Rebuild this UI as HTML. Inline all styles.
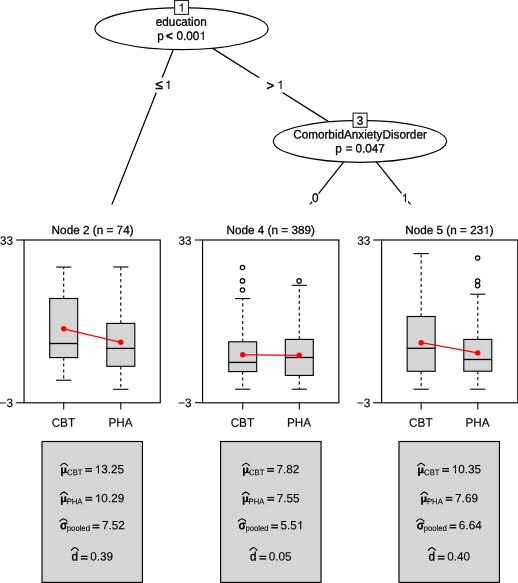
<!DOCTYPE html>
<html><head><meta charset="utf-8"><title>tree</title>
<style>html,body{margin:0;padding:0;background:#fff;}svg{display:block;will-change:transform;}text{font-family:"Liberation Sans",sans-serif;fill:#000;stroke:#000;stroke-width:0.3px;}</style></head><body>
<svg width="518" height="583" viewBox="0 0 518 583">
<defs>
<pattern id="dots" width="2" height="2" patternUnits="userSpaceOnUse"><rect width="2" height="2" fill="#d7d7d7"/><rect x="0" y="0" width="1" height="1" fill="#cfcfcf"/></pattern>
<clipPath id="treeclip"><rect x="0" y="0" width="518" height="204.6"/></clipPath>
</defs>
<rect width="518" height="583" fill="#fff"/>
<g clip-path="url(#treeclip)" stroke="#000" stroke-width="1.25" fill="none">
<line x1="181.55" y1="28.65" x2="92.35" y2="254"/>
<line x1="181.55" y1="28.65" x2="359.95" y2="141.35"/>
<line x1="359.95" y1="141.35" x2="270.8" y2="254"/>
<line x1="359.95" y1="141.35" x2="450" y2="254"/>
</g>
<rect x="147" y="77.5" width="32" height="15" fill="#fff"/>
<rect x="258.5" y="77.5" width="25" height="15" fill="#fff"/>
<rect x="311.9" y="193" width="6.6" height="9" fill="#fff"/>
<rect x="401.4" y="193" width="6.6" height="9" fill="#fff"/>
<ellipse cx="181.55" cy="28.65" rx="86.6" ry="21.0" fill="#fff" stroke="#000" stroke-width="1.2"/>
<ellipse cx="359.95" cy="141.35" rx="86.6" ry="21.0" fill="#fff" stroke="#000" stroke-width="1.2"/>
<rect x="174.6" y="0.5" width="13.9" height="13.9" fill="#fff" stroke="#222" stroke-width="1.1"/>
<rect x="353.05" y="113.1" width="14.0" height="14.2" fill="#fff" stroke="#222" stroke-width="1.1"/>
<path transform="translate(178.30,11.70) scale(0.00574,-0.00574)" d="M763,0H583V1147Q518,1085 412.5,1023Q307,961 223,930V1104Q374,1175 487,1276Q600,1377 647,1472H763Z" fill="#000" stroke="#000" stroke-width="12"/>
<g transform="matrix(1,0.001,0,1.035,0,-4.728)"><text x="356.83" y="124.80" font-size="11.75" xml:space="preserve">3</text></g>
<g transform="matrix(1,0.001,0,1.035,0,-1.081)"><text x="155.82" y="25.70" font-size="11.75" xml:space="preserve">education</text></g>
<g transform="matrix(1,0.001,0,1.035,0,-1.557)"><text x="157.25" y="39.90" font-size="11.75" xml:space="preserve">p</text></g>
<g transform="matrix(1,0.001,0,1.035,0,-1.566)"><text x="166.10" y="39.90" font-size="11.75" font-weight="bold" xml:space="preserve">&lt;</text></g>
<g transform="matrix(1,0.001,0,1.035,0,-1.588)"><text x="176.55" y="39.90" font-size="11.75" xml:space="preserve">0.00</text><path transform="translate(199.42,39.90) scale(0.00574,-0.00549)" d="M763,0H583V1147Q518,1085 412.5,1023Q307,961 223,930V1104Q374,1175 487,1276Q600,1377 647,1472H763Z" fill="#000" stroke="#000" stroke-width="12"/></g>
<g transform="matrix(1,0.001,0,1.035,0,-5.208)"><text x="293.17" y="138.50" font-size="11.75" xml:space="preserve">ComorbidAnxietyDisorder</text></g>
<g transform="matrix(1,0.001,0,1.035,0,-5.680)"><text x="335.24" y="152.60" font-size="11.75" xml:space="preserve">p</text></g>
<g transform="matrix(1,0.001,0,1.035,0,-5.690)"><text x="345.74" y="152.60" font-size="11.75" xml:space="preserve">=</text></g>
<g transform="matrix(1,0.001,0,1.035,0,-5.711)"><text x="355.51" y="152.60" font-size="11.75" xml:space="preserve">0.047</text></g>
<g transform="matrix(1,0.001,0,1.0,0,-0.159)"><text x="155.50" y="89.10" font-size="13.2" style="stroke-width:0.5px" xml:space="preserve">≤</text></g>
<path transform="translate(165.00,88.90) scale(0.00574,-0.00574)" d="M763,0H583V1147Q518,1085 412.5,1023Q307,961 223,930V1104Q374,1175 487,1276Q600,1377 647,1472H763Z" fill="#000" stroke="#000" stroke-width="12"/>
<g transform="matrix(1,0.001,0,1.0,0,-0.270)"><text x="266.50" y="89.90" font-size="13.2" style="stroke-width:0.5px" xml:space="preserve">&gt;</text></g>
<path transform="translate(277.20,88.90) scale(0.00574,-0.00574)" d="M763,0H583V1147Q518,1085 412.5,1023Q307,961 223,930V1104Q374,1175 487,1276Q600,1377 647,1472H763Z" fill="#000" stroke="#000" stroke-width="12"/>
<g transform="matrix(1,0.001,0,1.035,0,-7.385)"><text x="311.93" y="202.00" font-size="11.75" xml:space="preserve">0</text></g>
<path transform="translate(401.60,202.00) scale(0.00574,-0.00574)" d="M763,0H583V1147Q518,1085 412.5,1023Q307,961 223,930V1104Q374,1175 487,1276Q600,1377 647,1472H763Z" fill="#000" stroke="#000" stroke-width="12"/>
<g transform="matrix(1,0.001,0,1.0,0,-0.093)"><text x="51.61" y="234.00" font-size="11.75" xml:space="preserve">Node 2 (n = 74)</text></g>
<g stroke="#000" stroke-width="1.1">
<line x1="16.15" y1="240.0" x2="24.05" y2="240.0"/>
<line x1="16.15" y1="402.75" x2="24.05" y2="402.75"/>
<line x1="63.7" y1="402.75" x2="63.7" y2="409.55"/>
<line x1="120.8" y1="402.75" x2="120.8" y2="409.55"/>
</g>
<g transform="matrix(1,0.001,0,1.045,0,-11.018)"><text x="-0.12" y="244.70" font-size="11.75" style="stroke-width:0.12px" xml:space="preserve">33</text></g>
<g transform="matrix(1,0.001,0,1.045,0,-18.317)"><text x="-0.45" y="406.90" font-size="11.75" style="stroke-width:0.12px" xml:space="preserve">−3</text></g>
<g transform="matrix(1,0.001,0,1.04,0,-17.135)"><text x="51.65" y="426.80" font-size="11.75" style="stroke-width:0.12px" xml:space="preserve">CBT</text></g>
<g transform="matrix(1,0.001,0,1.04,0,-17.192)"><text x="108.42" y="426.80" font-size="11.75" style="stroke-width:0.12px" xml:space="preserve">PHA</text></g>
<g stroke="#000" stroke-width="1.1" fill="none">
<line x1="63.7" y1="298.5" x2="63.7" y2="267.1" stroke-dasharray="3.1,2.8"/>
<line x1="63.7" y1="357.6" x2="63.7" y2="380.2" stroke-dasharray="3.1,2.8"/>
<line x1="56.1" y1="267.1" x2="71.3" y2="267.1"/>
<line x1="56.1" y1="380.2" x2="71.3" y2="380.2"/>
<rect x="49.7" y="298.5" width="28.0" height="59.1" fill="url(#dots)"/>
<line x1="49.7" y1="343.5" x2="77.7" y2="343.5" stroke-width="1.3"/>
</g>
<g stroke="#000" stroke-width="1.1" fill="none">
<line x1="120.8" y1="323.4" x2="120.8" y2="267.0" stroke-dasharray="3.1,2.8"/>
<line x1="120.8" y1="366.3" x2="120.8" y2="389.3" stroke-dasharray="3.1,2.8"/>
<line x1="113.2" y1="267.0" x2="128.4" y2="267.0"/>
<line x1="113.2" y1="389.3" x2="128.4" y2="389.3"/>
<rect x="106.8" y="323.4" width="28.0" height="42.9" fill="url(#dots)"/>
<line x1="106.8" y1="348.4" x2="134.8" y2="348.4" stroke-width="1.3"/>
</g>
<line x1="63.7" y1="328.8" x2="120.8" y2="342.3" stroke="#f00" stroke-width="1.3"/>
<circle cx="63.7" cy="328.8" r="2.7" fill="#f00"/>
<circle cx="120.8" cy="342.3" r="2.7" fill="#f00"/>
<rect x="24.05" y="240.0" width="136.2" height="162.8" fill="none" stroke="#000" stroke-width="1.15"/>
<g transform="matrix(1,0.001,0,1.0,0,-0.271)"><text x="226.47" y="234.00" font-size="11.75" xml:space="preserve">Node 4 (n = 389)</text></g>
<g stroke="#000" stroke-width="1.1">
<line x1="195.05" y1="240.0" x2="202.55" y2="240.0"/>
<line x1="195.05" y1="402.75" x2="202.55" y2="402.75"/>
<line x1="242.7" y1="402.75" x2="242.7" y2="409.55"/>
<line x1="299.3" y1="402.75" x2="299.3" y2="409.55"/>
</g>
<g transform="matrix(1,0.001,0,1.045,0,-11.197)"><text x="178.53" y="244.70" font-size="11.75" style="stroke-width:0.12px" xml:space="preserve">33</text></g>
<g transform="matrix(1,0.001,0,1.045,0,-18.495)"><text x="178.20" y="406.90" font-size="11.75" style="stroke-width:0.12px" xml:space="preserve">−3</text></g>
<g transform="matrix(1,0.001,0,1.04,0,-17.314)"><text x="230.65" y="426.80" font-size="11.75" style="stroke-width:0.12px" xml:space="preserve">CBT</text></g>
<g transform="matrix(1,0.001,0,1.04,0,-17.371)"><text x="286.92" y="426.80" font-size="11.75" style="stroke-width:0.12px" xml:space="preserve">PHA</text></g>
<g stroke="#000" stroke-width="1.1" fill="none">
<line x1="242.7" y1="341.8" x2="242.7" y2="298.6" stroke-dasharray="3.1,2.8"/>
<line x1="242.7" y1="371.6" x2="242.7" y2="389.2" stroke-dasharray="3.1,2.8"/>
<line x1="235.1" y1="298.6" x2="250.29999999999998" y2="298.6"/>
<line x1="235.1" y1="389.2" x2="250.29999999999998" y2="389.2"/>
<rect x="228.7" y="341.8" width="28.0" height="29.8" fill="url(#dots)"/>
<line x1="228.7" y1="362.4" x2="256.7" y2="362.4" stroke-width="1.3"/>
<circle cx="242.5" cy="267.5" r="2.2" stroke-width="1.2"/>
<circle cx="242.5" cy="280.9" r="2.2" stroke-width="1.2"/>
<circle cx="242.5" cy="290.0" r="2.2" stroke-width="1.2"/>
</g>
<g stroke="#000" stroke-width="1.1" fill="none">
<line x1="299.3" y1="339.4" x2="299.3" y2="285.3" stroke-dasharray="3.1,2.8"/>
<line x1="299.3" y1="375.4" x2="299.3" y2="389.2" stroke-dasharray="3.1,2.8"/>
<line x1="291.7" y1="285.3" x2="306.90000000000003" y2="285.3"/>
<line x1="291.7" y1="389.2" x2="306.90000000000003" y2="389.2"/>
<rect x="285.3" y="339.4" width="28.0" height="36.0" fill="url(#dots)"/>
<line x1="285.3" y1="357.5" x2="313.3" y2="357.5" stroke-width="1.3"/>
<circle cx="299.1" cy="280.9" r="2.2" stroke-width="1.2"/>
</g>
<line x1="242.7" y1="354.8" x2="299.3" y2="355.3" stroke="#f00" stroke-width="1.3"/>
<circle cx="242.7" cy="354.8" r="2.7" fill="#f00"/>
<circle cx="299.3" cy="355.3" r="2.7" fill="#f00"/>
<rect x="202.55" y="240.0" width="136.3" height="162.8" fill="none" stroke="#000" stroke-width="1.15"/>
<g transform="matrix(1,0.001,0,1.0,0,-0.449)"><text x="405.15" y="234.00" font-size="11.75" xml:space="preserve">Node 5 (n = 23</text><path transform="translate(483.21,234.00) scale(0.00574,-0.00549)" d="M763,0H583V1147Q518,1085 412.5,1023Q307,961 223,930V1104Q374,1175 487,1276Q600,1377 647,1472H763Z" fill="#000" stroke="#000" stroke-width="12"/><text x="489.74" y="234.00" font-size="11.75" xml:space="preserve">)</text></g>
<g stroke="#000" stroke-width="1.1">
<line x1="373.20000000000005" y1="240.0" x2="381.6" y2="240.0"/>
<line x1="373.20000000000005" y1="402.75" x2="381.6" y2="402.75"/>
<line x1="421.15" y1="402.75" x2="421.15" y2="409.55"/>
<line x1="477.8" y1="402.75" x2="477.8" y2="409.55"/>
</g>
<g transform="matrix(1,0.001,0,1.045,0,-11.375)"><text x="357.23" y="244.70" font-size="11.75" style="stroke-width:0.12px" xml:space="preserve">33</text></g>
<g transform="matrix(1,0.001,0,1.045,0,-18.674)"><text x="356.90" y="406.90" font-size="11.75" style="stroke-width:0.12px" xml:space="preserve">−3</text></g>
<g transform="matrix(1,0.001,0,1.04,0,-17.493)"><text x="409.10" y="426.80" font-size="11.75" style="stroke-width:0.12px" xml:space="preserve">CBT</text></g>
<g transform="matrix(1,0.001,0,1.04,0,-17.550)"><text x="465.42" y="426.80" font-size="11.75" style="stroke-width:0.12px" xml:space="preserve">PHA</text></g>
<g stroke="#000" stroke-width="1.1" fill="none">
<line x1="421.15" y1="316.5" x2="421.15" y2="253.6" stroke-dasharray="3.1,2.8"/>
<line x1="421.15" y1="371.3" x2="421.15" y2="389.2" stroke-dasharray="3.1,2.8"/>
<line x1="413.54999999999995" y1="253.6" x2="428.75" y2="253.6"/>
<line x1="413.54999999999995" y1="389.2" x2="428.75" y2="389.2"/>
<rect x="407.15" y="316.5" width="28.0" height="54.8" fill="url(#dots)"/>
<line x1="407.15" y1="348.3" x2="435.15" y2="348.3" stroke-width="1.3"/>
</g>
<g stroke="#000" stroke-width="1.1" fill="none">
<line x1="477.8" y1="339.4" x2="477.8" y2="294.2" stroke-dasharray="3.1,2.8"/>
<line x1="477.8" y1="371.2" x2="477.8" y2="389.2" stroke-dasharray="3.1,2.8"/>
<line x1="470.2" y1="294.2" x2="485.40000000000003" y2="294.2"/>
<line x1="470.2" y1="389.2" x2="485.40000000000003" y2="389.2"/>
<rect x="463.8" y="339.4" width="28.0" height="31.8" fill="url(#dots)"/>
<line x1="463.8" y1="359.5" x2="491.8" y2="359.5" stroke-width="1.3"/>
<circle cx="477.6" cy="258.0" r="2.2" stroke-width="1.2"/>
<circle cx="477.6" cy="281.0" r="2.2" stroke-width="1.2"/>
<circle cx="477.6" cy="285.6" r="2.2" stroke-width="1.2"/>
</g>
<line x1="421.15" y1="342.7" x2="477.8" y2="352.9" stroke="#f00" stroke-width="1.3"/>
<circle cx="421.15" cy="342.7" r="2.7" fill="#f00"/>
<circle cx="477.8" cy="352.9" r="2.7" fill="#f00"/>
<rect x="381.6" y="240.0" width="136.2" height="162.8" fill="none" stroke="#000" stroke-width="1.15"/>
<rect x="42.0" y="441.5" width="100.45" height="140.9" fill="url(#dots)" stroke="#000" stroke-width="1.15"/>
<rect x="220.6" y="441.5" width="100.45" height="140.9" fill="url(#dots)" stroke="#000" stroke-width="1.15"/>
<rect x="399.0" y="441.5" width="100.45" height="140.9" fill="url(#dots)" stroke="#000" stroke-width="1.15"/>
<path d="M60.28,465.90 Q62.18,463.65 64.08,463.20 Q65.98,463.65 67.88,465.90" fill="none" stroke="#000" stroke-width="1.15" stroke-linejoin="round"/>
<g transform="translate(61.08,473.30)" stroke="#000" fill="none"><path d="M0.85,-5.75V2.6" stroke-width="1.7"/><path d="M4.35,-5.75V-0.6" stroke-width="1.9"/><path d="M1.2,-2.0Q1.3,-0.45 2.6,-0.45Q3.7,-0.45 3.9,-2.0" stroke-width="1.2"/><path d="M4.6,-1.3Q5.0,-0.35 5.9,-0.4Q6.5,-0.45 6.9,-1.3" stroke-width="0.9"/></g>
<g transform="matrix(1,0.001,0,1.08,0,-38.095)"><text x="67.09" y="475.25" font-size="7.7" style="stroke-width:0.08px" xml:space="preserve">CBT</text></g>
<rect x="85.21" y="468.00" width="6.8" height="1.25" fill="#000"/><rect x="85.21" y="470.55" width="6.8" height="1.3" fill="#000"/>
<g transform="matrix(1,0.001,0,1.015,0,-7.209)"><path transform="translate(94.61,473.30) scale(0.00574,-0.00549)" d="M763,0H583V1147Q518,1085 412.5,1023Q307,961 223,930V1104Q374,1175 487,1276Q600,1377 647,1472H763Z" fill="#000" stroke="#000" stroke-width="12"/><text x="101.15" y="473.30" font-size="11.75" style="stroke-width:0.12px" xml:space="preserve">3.25</text></g>
<path d="M60.13,494.80 Q62.03,492.55 63.93,492.10 Q65.83,492.55 67.73,494.80" fill="none" stroke="#000" stroke-width="1.15" stroke-linejoin="round"/>
<g transform="translate(60.93,502.20)" stroke="#000" fill="none"><path d="M0.85,-5.75V2.6" stroke-width="1.7"/><path d="M4.35,-5.75V-0.6" stroke-width="1.9"/><path d="M1.2,-2.0Q1.3,-0.45 2.6,-0.45Q3.7,-0.45 3.9,-2.0" stroke-width="1.2"/><path d="M4.6,-1.3Q5.0,-0.35 5.9,-0.4Q6.5,-0.45 6.9,-1.3" stroke-width="0.9"/></g>
<g transform="matrix(1,0.001,0,1.08,0,-40.407)"><text x="66.70" y="504.15" font-size="7.7" style="stroke-width:0.08px" xml:space="preserve">PHA</text></g>
<rect x="85.42" y="496.90" width="6.8" height="1.25" fill="#000"/><rect x="85.42" y="499.45" width="6.8" height="1.3" fill="#000"/>
<g transform="matrix(1,0.001,0,1.015,0,-7.643)"><path transform="translate(94.82,502.20) scale(0.00574,-0.00549)" d="M763,0H583V1147Q518,1085 412.5,1023Q307,961 223,930V1104Q374,1175 487,1276Q600,1377 647,1472H763Z" fill="#000" stroke="#000" stroke-width="12"/><text x="101.35" y="502.20" font-size="11.75" style="stroke-width:0.12px" xml:space="preserve">0.29</text></g>
<path d="M59.45,521.50 Q61.45,519.25 63.45,518.80 Q65.45,519.25 67.45,521.50" fill="none" stroke="#000" stroke-width="1.15" stroke-linejoin="round"/>
<text transform="matrix(0.904,0.001,0,1,59.92,529.20)" font-size="12.2" font-weight="bold" style="stroke-width:0.15px">σ</text>
<g transform="matrix(1,0.001,0,1.08,0,-42.558)"><text x="66.85" y="531.00" font-size="7.7" style="stroke-width:0.08px" xml:space="preserve">pooled</text></g>
<rect x="92.58" y="524.55" width="6.8" height="1.25" fill="#000"/><rect x="92.58" y="527.10" width="6.8" height="1.3" fill="#000"/>
<g transform="matrix(1,0.001,0,1.015,0,-8.053)"><text x="101.98" y="529.30" font-size="11.75" style="stroke-width:0.12px" xml:space="preserve">7.52</text></g>
<path d="M71.04,550.70 Q72.97,547.95 74.89,547.50 Q76.82,547.95 78.74,550.70" fill="none" stroke="#000" stroke-width="1.15" stroke-linejoin="round"/>
<g transform="matrix(1,0.001,0,1.035,0,-19.692)"><text x="71.55" y="560.50" font-size="11.75" xml:space="preserve">d</text></g>
<rect x="80.84" y="555.75" width="6.8" height="1.25" fill="#000"/><rect x="80.84" y="558.30" width="6.8" height="1.3" fill="#000"/>
<g transform="matrix(1,0.001,0,1.015,0,-8.509)"><text x="90.24" y="560.50" font-size="11.75" style="stroke-width:0.12px" xml:space="preserve">0.39</text></g>
<path d="M242.19,465.90 Q244.09,463.65 245.99,463.20 Q247.89,463.65 249.79,465.90" fill="none" stroke="#000" stroke-width="1.15" stroke-linejoin="round"/>
<g transform="translate(242.99,473.30)" stroke="#000" fill="none"><path d="M0.85,-5.75V2.6" stroke-width="1.7"/><path d="M4.35,-5.75V-0.6" stroke-width="1.9"/><path d="M1.2,-2.0Q1.3,-0.45 2.6,-0.45Q3.7,-0.45 3.9,-2.0" stroke-width="1.2"/><path d="M4.6,-1.3Q5.0,-0.35 5.9,-0.4Q6.5,-0.45 6.9,-1.3" stroke-width="0.9"/></g>
<g transform="matrix(1,0.001,0,1.08,0,-38.277)"><text x="249.00" y="475.25" font-size="7.7" style="stroke-width:0.08px" xml:space="preserve">CBT</text></g>
<rect x="267.13" y="468.00" width="6.8" height="1.25" fill="#000"/><rect x="267.13" y="470.55" width="6.8" height="1.3" fill="#000"/>
<g transform="matrix(1,0.001,0,1.015,0,-7.387)"><text x="276.53" y="473.30" font-size="11.75" style="stroke-width:0.12px" xml:space="preserve">7.82</text></g>
<path d="M241.97,494.80 Q243.87,492.55 245.77,492.10 Q247.67,492.55 249.57,494.80" fill="none" stroke="#000" stroke-width="1.15" stroke-linejoin="round"/>
<g transform="translate(242.77,502.20)" stroke="#000" fill="none"><path d="M0.85,-5.75V2.6" stroke-width="1.7"/><path d="M4.35,-5.75V-0.6" stroke-width="1.9"/><path d="M1.2,-2.0Q1.3,-0.45 2.6,-0.45Q3.7,-0.45 3.9,-2.0" stroke-width="1.2"/><path d="M4.6,-1.3Q5.0,-0.35 5.9,-0.4Q6.5,-0.45 6.9,-1.3" stroke-width="0.9"/></g>
<g transform="matrix(1,0.001,0,1.08,0,-40.588)"><text x="248.54" y="504.15" font-size="7.7" style="stroke-width:0.08px" xml:space="preserve">PHA</text></g>
<rect x="267.26" y="496.90" width="6.8" height="1.25" fill="#000"/><rect x="267.26" y="499.45" width="6.8" height="1.3" fill="#000"/>
<g transform="matrix(1,0.001,0,1.015,0,-7.821)"><text x="276.66" y="502.20" font-size="11.75" style="stroke-width:0.12px" xml:space="preserve">7.55</text></g>
<path d="M238.04,521.50 Q240.04,519.25 242.04,518.80 Q244.04,519.25 246.04,521.50" fill="none" stroke="#000" stroke-width="1.15" stroke-linejoin="round"/>
<text transform="matrix(0.904,0.001,0,1,238.51,529.20)" font-size="12.2" font-weight="bold" style="stroke-width:0.15px">σ</text>
<g transform="matrix(1,0.001,0,1.08,0,-42.737)"><text x="245.44" y="531.00" font-size="7.7" style="stroke-width:0.08px" xml:space="preserve">pooled</text></g>
<rect x="271.17" y="524.55" width="6.8" height="1.25" fill="#000"/><rect x="271.17" y="527.10" width="6.8" height="1.3" fill="#000"/>
<g transform="matrix(1,0.001,0,1.015,0,-8.232)"><text x="280.57" y="529.30" font-size="11.75" style="stroke-width:0.12px" xml:space="preserve">5.5</text><path transform="translate(296.90,529.30) scale(0.00574,-0.00549)" d="M763,0H583V1147Q518,1085 412.5,1023Q307,961 223,930V1104Q374,1175 487,1276Q600,1377 647,1472H763Z" fill="#000" stroke="#000" stroke-width="12"/></g>
<path d="M249.61,550.70 Q251.54,547.95 253.46,547.50 Q255.39,547.95 257.31,550.70" fill="none" stroke="#000" stroke-width="1.15" stroke-linejoin="round"/>
<g transform="matrix(1,0.001,0,1.035,0,-19.871)"><text x="250.12" y="560.50" font-size="11.75" xml:space="preserve">d</text></g>
<rect x="259.41" y="555.75" width="6.8" height="1.25" fill="#000"/><rect x="259.41" y="558.30" width="6.8" height="1.3" fill="#000"/>
<g transform="matrix(1,0.001,0,1.015,0,-8.688)"><text x="268.81" y="560.50" font-size="11.75" style="stroke-width:0.12px" xml:space="preserve">0.05</text></g>
<path d="M417.28,465.90 Q419.18,463.65 421.08,463.20 Q422.98,463.65 424.88,465.90" fill="none" stroke="#000" stroke-width="1.15" stroke-linejoin="round"/>
<g transform="translate(418.08,473.30)" stroke="#000" fill="none"><path d="M0.85,-5.75V2.6" stroke-width="1.7"/><path d="M4.35,-5.75V-0.6" stroke-width="1.9"/><path d="M1.2,-2.0Q1.3,-0.45 2.6,-0.45Q3.7,-0.45 3.9,-2.0" stroke-width="1.2"/><path d="M4.6,-1.3Q5.0,-0.35 5.9,-0.4Q6.5,-0.45 6.9,-1.3" stroke-width="0.9"/></g>
<g transform="matrix(1,0.001,0,1.08,0,-38.452)"><text x="424.09" y="475.25" font-size="7.7" style="stroke-width:0.08px" xml:space="preserve">CBT</text></g>
<rect x="442.21" y="468.00" width="6.8" height="1.25" fill="#000"/><rect x="442.21" y="470.55" width="6.8" height="1.3" fill="#000"/>
<g transform="matrix(1,0.001,0,1.015,0,-7.566)"><path transform="translate(451.61,473.30) scale(0.00574,-0.00549)" d="M763,0H583V1147Q518,1085 412.5,1023Q307,961 223,930V1104Q374,1175 487,1276Q600,1377 647,1472H763Z" fill="#000" stroke="#000" stroke-width="12"/><text x="458.15" y="473.30" font-size="11.75" style="stroke-width:0.12px" xml:space="preserve">0.35</text></g>
<path d="M420.40,494.80 Q422.30,492.55 424.20,492.10 Q426.10,492.55 428.00,494.80" fill="none" stroke="#000" stroke-width="1.15" stroke-linejoin="round"/>
<g transform="translate(421.20,502.20)" stroke="#000" fill="none"><path d="M0.85,-5.75V2.6" stroke-width="1.7"/><path d="M4.35,-5.75V-0.6" stroke-width="1.9"/><path d="M1.2,-2.0Q1.3,-0.45 2.6,-0.45Q3.7,-0.45 3.9,-2.0" stroke-width="1.2"/><path d="M4.6,-1.3Q5.0,-0.35 5.9,-0.4Q6.5,-0.45 6.9,-1.3" stroke-width="0.9"/></g>
<g transform="matrix(1,0.001,0,1.08,0,-40.767)"><text x="426.97" y="504.15" font-size="7.7" style="stroke-width:0.08px" xml:space="preserve">PHA</text></g>
<rect x="445.69" y="496.90" width="6.8" height="1.25" fill="#000"/><rect x="445.69" y="499.45" width="6.8" height="1.3" fill="#000"/>
<g transform="matrix(1,0.001,0,1.015,0,-8.000)"><text x="455.09" y="502.20" font-size="11.75" style="stroke-width:0.12px" xml:space="preserve">7.69</text></g>
<path d="M416.32,521.50 Q418.32,519.25 420.32,518.80 Q422.32,519.25 424.32,521.50" fill="none" stroke="#000" stroke-width="1.15" stroke-linejoin="round"/>
<text transform="matrix(0.904,0.001,0,1,416.79,529.20)" font-size="12.2" font-weight="bold" style="stroke-width:0.15px">σ</text>
<g transform="matrix(1,0.001,0,1.08,0,-42.915)"><text x="423.73" y="531.00" font-size="7.7" style="stroke-width:0.08px" xml:space="preserve">pooled</text></g>
<rect x="449.45" y="524.55" width="6.8" height="1.25" fill="#000"/><rect x="449.45" y="527.10" width="6.8" height="1.3" fill="#000"/>
<g transform="matrix(1,0.001,0,1.015,0,-8.410)"><text x="458.85" y="529.30" font-size="11.75" style="stroke-width:0.12px" xml:space="preserve">6.64</text></g>
<path d="M428.00,550.70 Q429.92,547.95 431.85,547.50 Q433.77,547.95 435.70,550.70" fill="none" stroke="#000" stroke-width="1.15" stroke-linejoin="round"/>
<g transform="matrix(1,0.001,0,1.035,0,-20.049)"><text x="428.50" y="560.50" font-size="11.75" xml:space="preserve">d</text></g>
<rect x="437.80" y="555.75" width="6.8" height="1.25" fill="#000"/><rect x="437.80" y="558.30" width="6.8" height="1.3" fill="#000"/>
<g transform="matrix(1,0.001,0,1.015,0,-8.866)"><text x="447.20" y="560.50" font-size="11.75" style="stroke-width:0.12px" xml:space="preserve">0.40</text></g>
</svg></body></html>
